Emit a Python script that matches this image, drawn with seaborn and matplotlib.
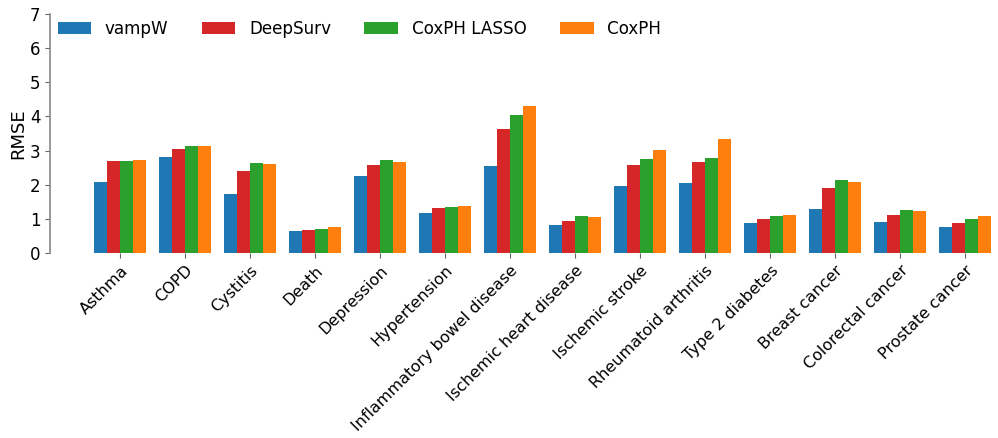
import matplotlib
matplotlib.use("Agg")
import matplotlib.pyplot as plt
import seaborn as sns
import pandas as pd

diseases = ["Asthma", "COPD", "Cystitis", "Death", "Depression", "Hypertension",
            "Inflammatory bowel disease", "Ischemic heart disease", "Ischemic stroke",
            "Rheumatoid arthritis", "Type 2 diabetes", "Breast cancer",
            "Colorectal cancer", "Prostate cancer"]
models = ["vampW", "DeepSurv", "CoxPH LASSO", "CoxPH"]

vampw = [2.09, 2.80, 1.74, 0.65, 2.25, 1.18, 2.54, 0.82, 1.95, 2.04, 0.89, 1.29, 0.91, 0.75]
deepsurv = [2.69, 3.06, 2.41, 0.68, 2.57, 1.32, 3.62, 0.95, 2.58, 2.66, 0.99, 1.91, 1.10, 0.89]
coxph_lasso = [2.69, 3.14, 2.63, 0.69, 2.72, 1.35, 4.03, 1.08, 2.76, 2.77, 1.09, 2.14, 1.27, 1.01]
coxph = [2.72, 3.13, 2.60, 0.75, 2.66, 1.38, 4.31, 1.05, 3.03, 3.33, 1.10, 2.08, 1.22, 1.09]

colors = ["#1f77b4", "#d62728", "#2ca02c", "#ff7f0e"]

rows = []
for model, vals in zip(models, [vampw, deepsurv, coxph_lasso, coxph]):
    for d, v in zip(diseases, vals):
        rows.append({"Disease": d, "Model": model, "RMSE": v})
df = pd.DataFrame(rows)

sns.set_style("ticks")
plt.rcParams["font.family"] = ["DejaVu Sans"]
plt.rcParams["text.color"] = "black"
plt.rcParams["axes.labelcolor"] = "black"
plt.rcParams["xtick.color"] = "black"
plt.rcParams["ytick.color"] = "black"

fig = plt.figure(figsize=(9.98, 4.38), dpi=100)
ax = fig.add_axes([50 / 998, 1 - 253 / 438, 1 - 50 / 998, (253 - 14) / 438])

sns.barplot(data=df, x="Disease", y="RMSE", hue="Model", order=diseases,
            hue_order=models, palette=colors, ax=ax, saturation=1,
            width=0.8, errorbar=None, linewidth=0)

ax.set_xlim(-1.08, 13.5)
ax.set_ylim(0, 7)
ax.set_yticks(range(0, 8))
ax.set_xlabel("")
ax.set_ylabel("RMSE", fontsize=13, labelpad=2)
ax.tick_params(axis="y", labelsize=12, length=3.5, color="#666666")
ax.tick_params(axis="x", labelsize=11.5, length=3.5, color="#666666")
plt.setp(ax.get_xticklabels(), rotation=45, ha="right", rotation_mode="anchor")

for s in ["top", "right", "bottom"]:
    ax.spines[s].set_visible(False)
ax.spines["left"].set_color("#888888")
ax.spines["left"].set_linewidth(1.2)

leg = ax.legend(loc="upper left", bbox_to_anchor=(-0.008, 1.04), ncol=4,
                frameon=False, fontsize=12.1, handlelength=2.0,
                columnspacing=2.0, handletextpad=0.8)

fig.savefig("out.png", dpi=100)
